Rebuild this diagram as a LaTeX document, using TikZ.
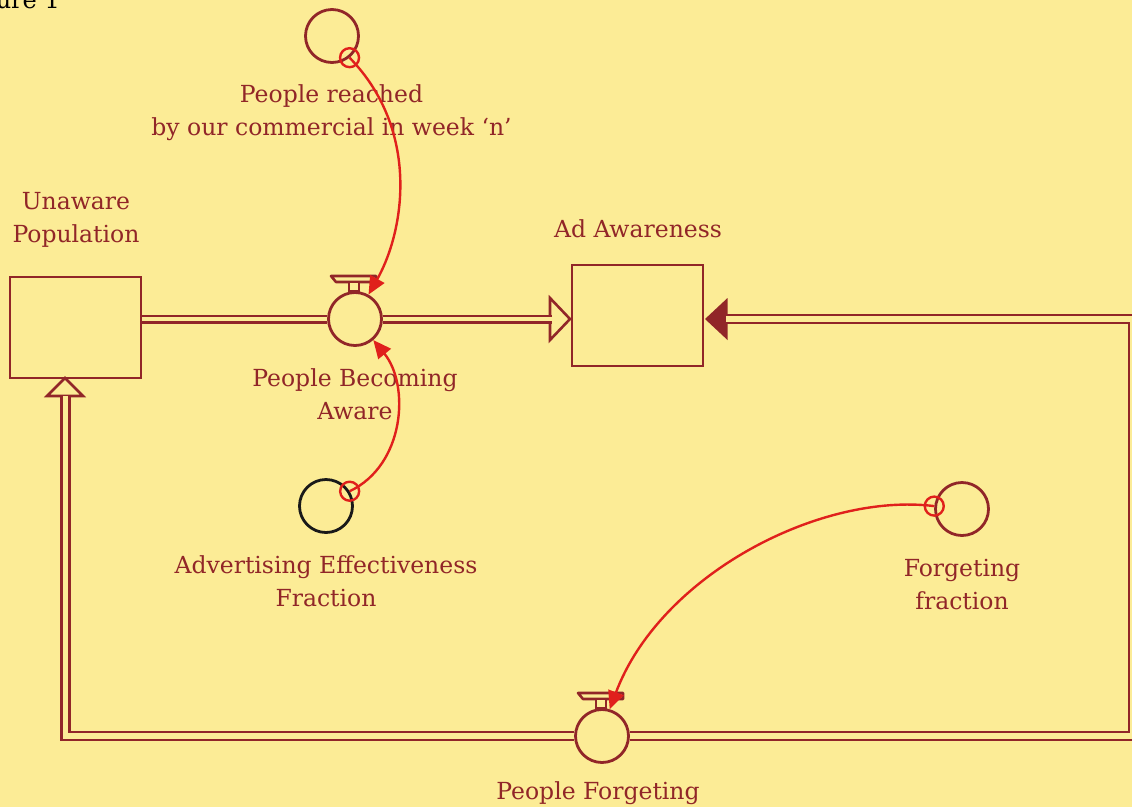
\documentclass[tikz,border=0pt]{standalone}
\usepackage{fontspec}
\setmainfont{DejaVu Serif}
\usetikzlibrary{arrows.meta}
\definecolor{bg}{RGB}{252,236,150}
\definecolor{dr}{RGB}{145,38,40}
\definecolor{rd}{RGB}{224,32,28}
\begin{document}
\begin{tikzpicture}[x=1pt,y=-1pt,
 stock/.style={draw=dr,line width=2.8pt,minimum width=131pt,minimum height=101pt,inner sep=0pt},
 valve/.style={draw=dr,line width=2.8pt,circle,minimum size=53pt,inner sep=0pt},
 aux/.style={draw=dr,line width=2.8pt,circle,minimum size=53pt,inner sep=0pt},
 lbl/.style={text=dr,font=\fontsize{23.5}{33}\selectfont,align=center,inner sep=0pt},
 pipe/.style={draw=dr,line width=2.8pt,double=bg,double distance=3.4pt},
 pipeB/.style={draw=dr,line width=2.8pt,double=bg,double distance=5.2pt},
 link/.style={draw=rd,line width=2.4pt,-{Triangle[length=18pt,width=16pt]}},
 ring/.style={draw=rd,line width=2.4pt,circle,minimum size=19pt,inner sep=0pt}
]
\fill[bg] (0,0) rectangle (1132,807);
\useasboundingbox (0,0) rectangle (1132,807);

% caption fragment (cut off at the top edge, as in the reference)
\node[anchor=base east,font=\fontsize{24}{28}\selectfont,text=black,inner sep=0pt] (fig) at (60,8) {Figure 1};

% stocks
\node[stock] (U) at (75.5,327.5) {};
\node[stock] (A) at (637.5,315.5) {};

% valves
\node[valve] (V1) at (355,319) {};
\node[valve] (V2) at (602,736) {};

% auxiliaries
\node[aux] (R) at (332,36) {};
\node[aux,draw=black!90] (E) at (326,506) {};
\node[aux] (F) at (962,509) {};

% hollow arrow into Ad Awareness
\coordinate (h1) at (551.5,319);
\draw[dr,line width=2.6pt,fill=bg,line join=miter] (550,298) -- (570,319) -- (550,340) -- cycle;
% upper flow pipe
\draw[pipe] (U.east |- V1.west) -- (V1.west);
\draw[pipe] (V1.east) -- (h1);

% filled arrow at Ad Awareness right side
\coordinate (h2) at (726,319);
\fill[dr] (705,319) -- (727.5,298) -- (727.5,340) -- cycle;
% hollow arrow into Unaware Population
\coordinate (h3) at (65.5,395.5);
\draw[dr,line width=2.6pt,fill=bg,line join=miter] (47,396) -- (65,378) -- (83,396) -- cycle;
% lower flow pipe
\coordinate (c1) at (1133,319);
\coordinate (c2) at (1133,736);
\coordinate (c3) at (65.5,736);
\draw[pipeB] (h2) -- (c1) -- (c2) -- (V2.east);
\draw[pipeB] (V2.west) -- (c3) -- (h3);

% valve handles
\foreach \v in {V1,V2}{
  \draw[dr,line width=2.6pt,fill=bg,line join=round]
    ([shift={(-24,-43)}]\v.center) -- ([shift={(21,-43)}]\v.center) --
    ([shift={(21,-37)}]\v.center) -- ([shift={(-19,-37)}]\v.center) -- cycle;
  \draw[dr,line width=2.6pt,fill=bg]
    ([shift={(-6,-37)}]\v.center) rectangle ([shift={(4,-28)}]\v.center);
}

% labels
\node[lbl] (Ul) at (76,219.5) {Unaware\\Population};
\node[lbl] (Al) at (638,229) {Ad Awareness};
\node[lbl] (Rl) at (331.5,112.5) {People reached\\by our commercial in week ‘n’};
\node[lbl] (V1l) at (355,394) {People Becoming\\Aware};
\node[lbl] (El) at (326,581.5) {Advertising Effectiveness\\Fraction};
\node[lbl] (Fl) at (962,585) {Forgeting\\fraction};
\node[lbl] (V2l) at (598,793) {People Forgeting};

% information links
\node[ring] (r1) at (R.-51) {};
\node[ring] (r2) at (E.32) {};
\node[ring] (r3) at (F.174) {};
\draw[link] (r1.center) .. controls (420,130) and (405,230) .. (V1.61);
\draw[link] (r2.center) .. controls (405,465) and (410,385) .. (V1.-49);
\draw[link] (r3.center) .. controls (820,492) and (660,575) .. (V2.74);
\end{tikzpicture}
\end{document}
